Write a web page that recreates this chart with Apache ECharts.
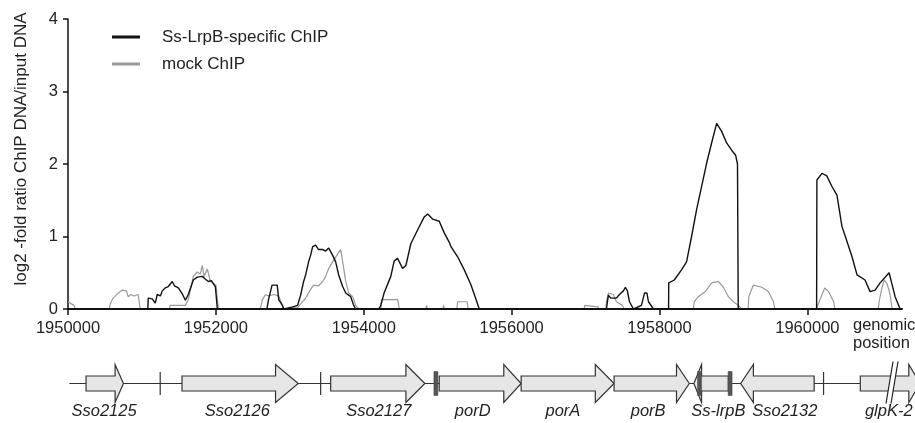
<!DOCTYPE html>
<html>
<head>
<meta charset="utf-8">
<script src="https://cdn.jsdelivr.net/npm/echarts@6/dist/echarts.min.js"></script>
<style>
  html, body { margin: 0; padding: 0; background: #ffffff; }
  #chart { width: 915px; height: 423px; }
</style>
</head>
<body>
<div id="chart"></div>
<script>
  // ChIP-chip traces (genomic position / log2 ratio)
  var lrpbPos = [1950000, 1951080, 1951085, 1951139, 1951180, 1951207, 1951250, 1951275, 1951315, 1951356, 1951410, 1951440,
    1951492, 1951546, 1951587, 1951627, 1951695, 1951749, 1951817, 1951860, 1951898, 1951939, 1951993, 1952020,
    1952690, 1952712, 1952760, 1952830, 1952850, 1952900, 1952920,
    1953010, 1953105, 1953146, 1953187, 1953214, 1953254, 1953281, 1953309, 1953349, 1953390, 1953444, 1953485,
    1953526, 1953580, 1953620, 1953661, 1953715, 1953756, 1953824, 1953864, 1953892,
    1954204, 1954231, 1954275, 1954366, 1954411, 1954457, 1954525, 1954570, 1954637, 1954728, 1954818, 1954864,
    1954931, 1955021, 1955089, 1955157, 1955180, 1955270, 1955360, 1955451, 1955563,
    1957282, 1957309, 1957340, 1957417, 1957458, 1957512, 1957539, 1957566, 1957594, 1957648,
    1957756, 1957797, 1957830, 1957851, 1957919,
    1958123, 1958125, 1958200, 1958298, 1958366, 1958434, 1958502, 1958570, 1958637, 1958705, 1958773, 1958841,
    1958908, 1958976, 1959030, 1959055, 1959065,
    1960125, 1960129, 1960197, 1960260, 1960333, 1960400, 1960468, 1960536, 1960604, 1960672, 1960780, 1960848,
    1960916, 1960984, 1961106, 1961140, 1961187, 1961255];
  var lrpbVal = [0, 0, 0.15, 0.14, 0.08, 0.2, 0.18, 0.25, 0.29, 0.31, 0.38, 0.32,
    0.29, 0.21, 0.12, 0.2, 0.4, 0.44, 0.45, 0.41, 0.38, 0.39, 0.31, 0,
    0, 0.13, 0.33, 0.33, 0.13, 0.05, 0,
    0.02, 0.05, 0.19, 0.38, 0.47, 0.65, 0.74, 0.86, 0.88, 0.82, 0.82, 0.8,
    0.84, 0.74, 0.65, 0.47, 0.31, 0.22, 0.17, 0.05, 0,
    0, 0.05, 0.22, 0.45, 0.66, 0.7, 0.56, 0.6, 0.9, 1.09, 1.27, 1.31,
    1.24, 1.21, 1.05, 0.92, 0.86, 0.72, 0.54, 0.33, 0,
    0, 0.19, 0.15, 0.15, 0.2, 0.25, 0.3, 0.25, 0.1, 0,
    0.05, 0.22, 0.22, 0.1, 0,
    0, 0.36, 0.4, 0.54, 0.65, 1.0, 1.37, 1.69, 2.01, 2.29, 2.56, 2.45,
    2.29, 2.19, 2.12, 2.0, 0,
    0, 1.78, 1.87, 1.84, 1.69, 1.57, 1.14, 0.93, 0.72, 0.47, 0.4, 0.24,
    0.26, 0.36, 0.5, 0.36, 0.17, 0];

  var mockPos = [1950000, 1950080, 1950100, 1950560, 1950570, 1950610, 1950678, 1950732, 1950790, 1950814, 1950850,
    1950895, 1950949, 1950976,
    1951370, 1951383, 1951587, 1951627, 1951695, 1951749, 1951790, 1951817, 1951840, 1951885, 1951920, 1951966,
    1952000, 1952034,
    1952600, 1952630, 1952671, 1952712, 1952780, 1952850, 1952900, 1952915,
    1953105, 1953214, 1953281, 1953322, 1953390, 1953444, 1953485, 1953526, 1953580, 1953648, 1953688, 1953729,
    1953756, 1953797, 1953851, 1953892, 1953932,
    1954230, 1954240, 1954460, 1954480, 1954840, 1954850, 1954860, 1955070, 1955080, 1955090,
    1955260, 1955270, 1955400, 1955410,
    1956980, 1956990, 1957170, 1957180,
    1957275, 1957282, 1957309, 1957377, 1957417, 1957500, 1957520,
    1958457, 1958470, 1958525, 1958620, 1958705, 1958796, 1958864, 1958932, 1958999, 1959067, 1959112,
    1959200, 1959207, 1959270, 1959383, 1959473, 1959541, 1959560,
    1960120, 1960160, 1960234, 1960287, 1960355, 1960373,
    1960960, 1960970, 1961011, 1961038, 1961078, 1961119, 1961146];
  var mockVal = [0.1, 0.05, 0, 0, 0.07, 0.15, 0.22, 0.26, 0.25, 0.17, 0.2,
    0.18, 0.2, 0,
    0, 0.05, 0.05, 0.13, 0.45, 0.51, 0.48, 0.6, 0.45, 0.55, 0.4, 0.35,
    0.33, 0,
    0, 0.13, 0.2, 0.18, 0.2, 0.18, 0.05, 0,
    0.02, 0.15, 0.27, 0.33, 0.32, 0.38, 0.45, 0.56, 0.65, 0.76, 0.82, 0.56,
    0.38, 0.22, 0.17, 0.05, 0,
    0, 0.13, 0.13, 0, 0, 0.05, 0, 0, 0.05, 0,
    0, 0.1, 0.1, 0,
    0, 0.05, 0.03, 0,
    0, 0.1, 0.22, 0.2, 0.1, 0.05, 0,
    0, 0.1, 0.17, 0.24, 0.36, 0.38, 0.3, 0.17, 0.1, 0.05, 0,
    0, 0.17, 0.33, 0.3, 0.24, 0.1, 0,
    0, 0.1, 0.29, 0.24, 0.1, 0,
    0, 0.1, 0.3, 0.4, 0.35, 0.2, 0];

  var xTicks = [1950000, 1952000, 1954000, 1956000, 1958000, 1960000];
  var yTicks = [0, 1, 2, 3, 4];

  // gene map: tail (flat end), neck (head base), tip, label anchor
  var geneNames = ['Sso2125', 'Sso2126', 'Sso2127', 'porD', 'porA', 'porB', 'Ss-lrpB', 'Sso2132', 'glpK-2'];
  var geneTail = [1950244, 1951542, 1953553, 1955021, 1956129, 1957386, 1958931, 1960092, 1960716];
  var geneNeck = [1950637, 1952807, 1954570, 1955894, 1957132, 1958230, 1958569, 1959270, 1961372];
  var geneTip = [1950750, 1953114, 1954827, 1956129, 1957386, 1958403, 1958465, 1959098, 1961525];
  var geneLabelAt = [1950488, 1952291, 1954203, 1955474, 1956694, 1957847, 1958796, 1959695, 1961101];
  var separators = [1951247, 1953417, 1960219];
  var boxMarks = [1954976, 1958542, 1958955];
  var mapStart = 1950018;
  var mapBreak = 1961145;

  var font = '"Liberation Sans", Arial, sans-serif';
  var myChart = echarts.init(document.getElementById('chart'));

  function renderGene(params, api) {
    var tail = api.coord([api.value(0), 0.5]);
    var neck = api.coord([api.value(1), 0.5]);
    var tip = api.coord([api.value(2), 0.5]);
    var lab = api.coord([api.value(3), 0.5]);
    var cy = tail[1];
    var bh = 7.5, hh = 19;
    var pts = [[tail[0], cy - bh], [neck[0], cy - bh], [neck[0], cy - hh], [tip[0], cy],
      [neck[0], cy + hh], [neck[0], cy + bh], [tail[0], cy + bh]];
    return {
      type: 'group',
      children: [
        { type: 'polygon', shape: { points: pts }, style: { fill: '#e6e6e6', stroke: '#333', lineWidth: 1.2 } },
        { type: 'text', x: lab[0], y: cy + 28,
          style: { text: geneNames[params.dataIndex], font: 'italic 16.5px ' + font, fill: '#222',
            align: 'center', verticalAlign: 'middle' } }
      ]
    };
  }

  function renderMarks(params, api) {
    var p = api.coord([api.value(0), 0.5]);
    var kind = api.value(1);
    if (kind === 0) {
      return { type: 'line', shape: { x1: p[0], y1: p[1] - 11.5, x2: p[0], y2: p[1] + 11.5 },
        style: { stroke: '#333', lineWidth: 1.2 } };
    }
    if (kind === 1) {
      return { type: 'rect', shape: { x: p[0] - 2, y: p[1] - 12, width: 4, height: 24 },
        style: { fill: '#555', stroke: '#444', lineWidth: 0.5 } };
    }
    // break mark on glpK-2
    return {
      type: 'group',
      children: [
        { type: 'polygon', shape: { points: [[p[0] + 1, p[1] - 22], [p[0] + 6, p[1] - 22], [p[0] - 1, p[1] + 20], [p[0] - 6, p[1] + 20]] },
          style: { fill: '#fff' } },
        { type: 'line', shape: { x1: p[0] + 1, y1: p[1] - 22, x2: p[0] - 6, y2: p[1] + 20 }, style: { stroke: '#222', lineWidth: 1.2 } },
        { type: 'line', shape: { x1: p[0] + 6, y1: p[1] - 22, x2: p[0] - 1, y2: p[1] + 20 }, style: { stroke: '#222', lineWidth: 1.2 } }
      ]
    };
  }

  var markData = separators.map(function (v) { return [v, 0]; })
    .concat(boxMarks.map(function (v) { return [v, 1]; }))
    .concat([[mapBreak, 2]]);

  var option = {
    animation: false,
    backgroundColor: '#ffffff',
    textStyle: { fontFamily: font },
    legend: {
      left: 107,
      top: 23.5,
      orient: 'vertical',
      icon: 'rect',
      itemWidth: 28,
      itemHeight: 3,
      itemGap: 10,
      selectedMode: false,
      data: ['Ss-LrpB-specific ChIP', 'mock ChIP'],
      textStyle: { fontSize: 17, color: '#222', lineHeight: 16, padding: [0, 0, 0, 17], fontFamily: font }
    },
    grid: [
      { left: 68, right: 13, top: 19, bottom: 114 },
      { left: 68, right: 13, top: 359.5, height: 48 }
    ],
    xAxis: [
      {
        type: 'value', gridIndex: 0, min: 1950000, max: 1961280, z: 10,
        splitLine: { show: false },
        axisLine: { lineStyle: { color: '#111', width: 2 } },
        axisTick: { length: 6, lineStyle: { color: '#111', width: 1.5 }, customValues: xTicks },
        axisLabel: { customValues: xTicks, margin: 11, fontSize: 16.5, color: '#222', fontFamily: font,
          formatter: function (v) { return String(v); } }
      },
      { type: 'value', gridIndex: 1, min: 1950000, max: 1961280, show: false }
    ],
    yAxis: [
      {
        type: 'value', gridIndex: 0, min: 0, max: 4, interval: 1,
        splitLine: { show: false },
        axisLine: { show: true, lineStyle: { color: '#111', width: 1.5 } },
        axisTick: { show: true, length: 5, lineStyle: { color: '#111', width: 1.5 } },
        axisLabel: { margin: 10, fontSize: 16.5, color: '#222', fontFamily: font, customValues: yTicks }
      },
      { type: 'value', gridIndex: 1, min: 0, max: 1, show: false }
    ],
    graphic: [
      { type: 'text', x: 21, y: 149, rotation: Math.PI / 2,
        style: { text: 'log2 -fold ratio ChIP DNA/input DNA', font: '17px ' + font, fill: '#222',
          align: 'center', verticalAlign: 'middle' } },
      { type: 'text', x: 853, y: 316,
        style: { text: 'genomic\nposition', font: '16.5px ' + font, fill: '#222', lineHeight: 18,
          align: 'left', verticalAlign: 'top' } }
    ],
    series: [
      {
        name: 'mock ChIP', type: 'line', xAxisIndex: 0, yAxisIndex: 0, symbol: 'none',
        color: '#999', lineStyle: { color: '#999', width: 1.2 },
        data: mockPos.map(function (x, i) { return [x, mockVal[i]]; })
      },
      {
        name: 'Ss-LrpB-specific ChIP', type: 'line', xAxisIndex: 0, yAxisIndex: 0, symbol: 'none',
        color: '#111', lineStyle: { color: '#111', width: 1.4 },
        data: lrpbPos.map(function (x, i) { return [x, lrpbVal[i]]; })
      },
      {
        name: 'backbone', type: 'line', xAxisIndex: 1, yAxisIndex: 1, symbol: 'none', clip: false,
        lineStyle: { color: '#333', width: 1.2 }, z: 1,
        data: [[mapStart, 0.5], [geneTail[8], 0.5]]
      },
      {
        name: 'genes', type: 'custom', xAxisIndex: 1, yAxisIndex: 1, clip: false, z: 3,
        renderItem: renderGene,
        data: geneNames.map(function (n, i) { return [geneTail[i], geneNeck[i], geneTip[i], geneLabelAt[i]]; })
      },
      {
        name: 'marks', type: 'custom', xAxisIndex: 1, yAxisIndex: 1, clip: false, z: 4,
        renderItem: renderMarks,
        data: markData
      }
    ]
  };
  myChart.setOption(option);
</script>
</body>
</html>
